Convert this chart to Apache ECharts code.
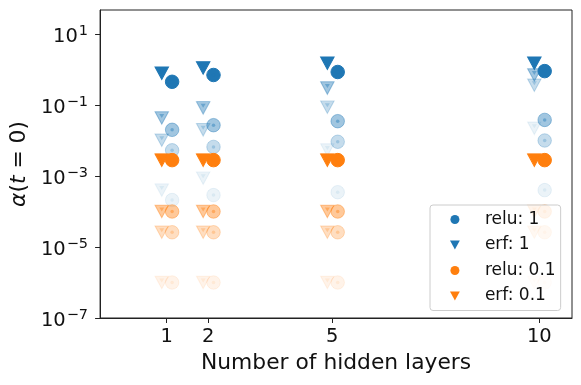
<!DOCTYPE html>
<html>
<head>
<meta charset="utf-8">
<script src="https://cdn.jsdelivr.net/npm/echarts@6/dist/echarts.min.js"></script>
<style>
html, body { margin: 0; padding: 0; background: #fff; }
#chart { width: 581px; height: 385px; }
</style>
</head>
<body>
<div id="chart"></div>
<script>
// number of hidden layers on the x axis
var layers = [1, 2, 5, 10];
var xTicks = [1, 2, 5, 10];
var yTicks = [1e-7, 1e-5, 1e-3, 1e-1, 10];

// each setting has four runs, drawn from strongest to faintest
var runAlpha = [1, 0.42, 0.26, 0.09];

// alpha(t=0), one row per run, one column per layer count
var reluOne = [
  [0.45, 0.70, 0.85, 0.90],
  [0.020, 0.027, 0.035, 0.038],
  [0.0053, 0.0066, 0.0092, 0.010],
  [0.00021, 0.00029, 0.00035, 0.00040]
];
var erfOne = [
  [0.79, 1.1, 1.5, 1.5],
  [0.043, 0.083, 0.30, 0.70],
  [0.0102, 0.020, 0.087, 0.36],
  [0.00040, 0.00087, 0.0054, 0.022]
];
var reluTenth = [
  [0.0028, 0.0028, 0.0028, 0.0028],
  [1.0e-4, 1.0e-4, 1.0e-4, 1.0e-4],
  [2.6e-5, 2.6e-5, 2.6e-5, 2.6e-5],
  [1.0e-6, 1.0e-6, 1.0e-6, 1.0e-6]
];
var erfTenth = [
  [0.0028, 0.0028, 0.0028, 0.0028],
  [1.0e-4, 1.0e-4, 1.0e-4, 1.0e-4],
  [2.6e-5, 2.6e-5, 2.6e-5, 2.6e-5],
  [1.0e-6, 1.0e-6, 1.0e-6, 1.0e-6]
];

var blue = '#1f77b4';
var orange = '#ff7f0e';
var downTri = 'path://M0,0 L12,0 L6,11 Z';
var font = 'DejaVu Sans';

// circles sit a little right of the tick, triangles a little left
function points(rows, shift) {
  var out = [];
  rows.forEach(function (row, r) {
    row.forEach(function (v, i) {
      out.push({ value: [layers[i] + shift, v], itemStyle: { opacity: runAlpha[r] } });
    });
  });
  return out;
}

function markSeries(name, rows, color, isTri) {
  var shift = isTri ? -0.12 : 0.13;
  return [{
    name: name,
    type: 'scatter',
    symbol: isTri ? downTri : 'circle',
    symbolSize: isTri ? [13.5, 12.5] : 13.5,
    itemStyle: { color: color, borderColor: color, borderWidth: 1 },
    emphasis: { disabled: true },
    data: points(rows, shift)
  }, {
    // darker centre mark where the marker overlaps itself
    name: name + ' centre',
    type: 'scatter',
    silent: true,
    symbol: isTri ? downTri : 'circle',
    symbolSize: isTri ? [5, 4] : 3.5,
    symbolOffset: isTri ? [0, -2] : [0, 0],
    itemStyle: { color: color },
    data: points(rows, shift)
  }];
}

function powLabel(v) {
  var e = Math.round(Math.log10(v));
  var sup = e < 0 ? '\u2212' + (-e) : String(e);
  return '{b|10}{s|' + sup + '}';
}

var chart = echarts.init(document.getElementById('chart'));
chart.setOption({
  animation: false,
  textStyle: { fontFamily: font },
  grid: {
    left: 97, top: 10, right: 9, bottom: 67,
    show: true, borderColor: '#222', borderWidth: 1
  },
  legend: {
    orient: 'vertical',
    left: 430, top: 205,
    padding: [6, 5, 6, 20],
    itemWidth: 10, itemHeight: 9, itemGap: 8.5,
    backgroundColor: 'rgba(255,255,255,0.8)',
    borderColor: '#cccccc', borderWidth: 1, borderRadius: 3,
    itemStyle: { borderWidth: 0, opacity: 1 },
    textStyle: { fontSize: 17, lineHeight: 17, color: '#111', fontFamily: font, padding: [0, 0, 0, 20] },
    data: [
      { name: 'relu: 1', icon: 'circle' },
      { name: 'erf: 1', icon: downTri },
      { name: 'relu: 0.1', icon: 'circle' },
      { name: 'erf: 0.1', icon: downTri }
    ]
  },
  xAxis: {
    type: 'value',
    min: -0.61, max: 10.79,
    name: 'Number of hidden layers',
    nameLocation: 'middle',
    nameGap: 27,
    nameTextStyle: { fontSize: 21.8, color: '#111', fontFamily: font },
    splitLine: { show: false },
    axisLine: { onZero: false, lineStyle: { color: '#222', width: 1 } },
    axisTick: { length: 5, lineStyle: { color: '#222' }, customValues: xTicks },
    axisLabel: { fontSize: 19.5, color: '#111', margin: 9, customValues: xTicks }
  },
  yAxis: {
    type: 'log',
    logBase: 10,
    min: 1e-7, max: 47.4,
    name: '{i|\u03b1}({i|t} = 0)',
    nameLocation: 'middle',
    nameGap: 66,
    nameTextStyle: {
      fontSize: 21.8, color: '#111', fontFamily: font,
      rich: { i: { fontSize: 21.8, fontStyle: 'italic', color: '#111', fontFamily: font } }
    },
    splitLine: { show: false },
    axisLine: { onZero: false, lineStyle: { color: '#222', width: 1 } },
    axisTick: { length: 5, lineStyle: { color: '#222' }, customValues: yTicks },
    axisLabel: {
      margin: 12,
      customValues: yTicks,
      formatter: powLabel,
      rich: {
        b: { fontSize: 19.5, color: '#111', fontFamily: font, padding: [6, 0, 0, 0] },
        s: { fontSize: 14.5, color: '#111', fontFamily: font, padding: [0, 0, 6, 1] }
      }
    }
  },
  series: [].concat(
    markSeries('erf: 1', erfOne, blue, true),
    markSeries('relu: 1', reluOne, blue, false),
    markSeries('erf: 0.1', erfTenth, orange, true),
    markSeries('relu: 0.1', reluTenth, orange, false)
  )
});
</script>
</body>
</html>
